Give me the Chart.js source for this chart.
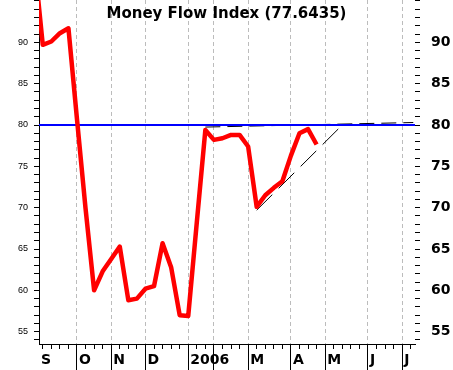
<!DOCTYPE html>
<html><head><meta charset="utf-8">
<script src="https://cdn.jsdelivr.net/npm/chart.js@4.4.1/dist/chart.umd.min.js"></script>
<style>html,body{margin:0;padding:0;background:#fff;overflow:hidden}#wrap{width:453px;height:370px}</style>
</head><body><div id="wrap"><canvas id="c" width="453" height="370"></canvas></div>
<script>
// ---- data (week index 0 = first week of Sep 2005) ----
const titleText = 'Money Flow Index (77.6435)';
const weeks = [-1,0,1,2,3,4,5,6,7,8,9,10,11,12,13,14,15,16,17,18,19,20,21,22,23,24,25,26,27,28,29,30,31,32];
const mfi = [100, 89.7, 90.1, 91.1, 91.7, 80.7, 69.9, 60.0, 62.3, 63.8, 65.3, 58.8, 59.0, 60.2, 60.5, 65.7, 62.8, 57.0, 56.9, 68.2, 79.4, 78.2, 78.4, 78.8, 78.8, 77.4, 70.1, 71.5, 72.4, 73.2, 76.3, 79.0, 79.5, 77.6435];
const monthWeeks = [4, 8, 12, 17, 20, 24, 29, 33, 38, 42];
const monthLabels = ['O', 'N', 'D', '2006', '', 'M', 'A', 'M', 'J', 'J'];
const firstLabel = 'S';
const yLabelValues = [55, 60, 65, 70, 75, 80, 85, 90];
const refLevel = 80;
const resistX = [19, 43.3], resistY = [79.75, 80.3];
const supportX = [25, 35], supportY = [69.7, 80.0];
const xMin = -0.44, xMax = 43.5;
const yMin = 53.51, yMax = 95.12;

const pts = (xs, ys) => xs.map((x, i) => ({x: x, y: ys[i]}));
const allMonthTicks = [xMin].concat(monthWeeks);
const allMonthLabels = [firstLabel].concat(monthLabels);
const isStart = ctx => ctx.tick && Math.abs(ctx.tick.value - xMin) < 1e-6;
const yLabel = v => (yLabelValues.indexOf(Math.round(v)) >= 0 && Math.abs(v - Math.round(v)) < 1e-6 ? String(Math.round(v)) : '');
const noPad = s => { s.paddingTop = 0; s.paddingBottom = 0; s.paddingLeft = 0; s.paddingRight = 0; };

// title drawn over the plot area (reference has no space reserved for it)
const overlayTitle = {
  id: 'overlayTitle',
  afterDraw(chart) {
    const ctx = chart.ctx;
    ctx.save();
    ctx.font = 'bold 15px "DejaVu Sans"';
    ctx.fillStyle = '#000';
    ctx.textAlign = 'center';
    ctx.textBaseline = 'alphabetic';
    ctx.fillText(titleText, chart.width / 2, 18);
    ctx.restore();
  }
};

new Chart(document.getElementById('c'), {
  type: 'line',
  data: {
    datasets: [
      {data: pts(weeks, mfi), borderColor: '#ff0000', borderWidth: 4.5, pointRadius: 0, tension: 0, borderJoinStyle: 'round', xAxisID: 'x', yAxisID: 'y'},
      {data: pts([xMin, xMax], [refLevel, refLevel]), borderColor: '#0000ff', borderWidth: 2, pointRadius: 0, xAxisID: 'x', yAxisID: 'y'},
      {data: pts(resistX, resistY), borderColor: '#000', borderWidth: 1, borderDash: [15, 7], pointRadius: 0, xAxisID: 'x', yAxisID: 'y'},
      {data: pts(supportX, supportY), borderColor: '#000', borderWidth: 1, borderDash: [22, 9], pointRadius: 0, xAxisID: 'x', yAxisID: 'y'}
    ]
  },
  plugins: [overlayTitle],
  options: {
    responsive: false,
    devicePixelRatio: 1,
    animation: false,
    events: [],
    layout: {padding: 0, autoPadding: false},
    plugins: {
      legend: {display: false},
      tooltip: {enabled: false},
      title: {display: false}
    },
    scales: {
      x: {
        type: 'linear', position: 'bottom', min: xMin, max: xMax, weight: 0,
        afterFit: s => { s.height = 0; noPad(s); },
        ticks: {display: false, stepSize: 1, includeBounds: false, autoSkip: false},
        grid: {drawOnChartArea: false, tickLength: 5, tickColor: '#000', color: '#000'},
        border: {display: true, color: '#000', width: 1}
      },
      xm: {
        type: 'linear', position: 'bottom', min: xMin, max: xMax, weight: 1,
        afterBuildTicks: s => { s.ticks = allMonthTicks.map(v => ({value: v})); },
        afterFit: s => { s.height = 26; noPad(s); },
        ticks: {
          callback: (v, i) => allMonthLabels[i],
          autoSkip: false, maxRotation: 0, align: 'start', labelOffset: 2, padding: -18,
          color: '#000', font: {family: 'DejaVu Sans', size: 14, weight: 'bold'}
        },
        grid: {
          drawOnChartArea: true, tickLength: 26, lineWidth: 1,
          color: ctx => isStart(ctx) ? 'rgba(0,0,0,0)' : '#bcbcbc',
          tickColor: ctx => isStart(ctx) ? 'rgba(0,0,0,0)' : '#000',
          tickBorderDash: []
        },
        border: {display: false, dash: [4, 3]}
      },
      y: {
        type: 'linear', position: 'left', min: yMin, max: yMax,
        afterFit: s => { s.width = 39; noPad(s); },
        ticks: {
          stepSize: 1, includeBounds: false, autoSkip: false, padding: 6, color: '#000',
          font: {family: 'Liberation Sans', size: 9},
          callback: v => yLabel(v)
        },
        grid: {drawOnChartArea: false, tickLength: 5, tickColor: '#000', color: '#000'},
        border: {display: true, color: '#000', width: 1}
      },
      y2: {
        type: 'linear', position: 'right', min: yMin, max: yMax,
        afterFit: s => { s.width = 38; noPad(s); },
        ticks: {
          stepSize: 1, includeBounds: false, autoSkip: false, padding: 11, color: '#000',
          font: {family: 'DejaVu Sans', size: 14, weight: 'bold'},
          callback: v => yLabel(v)
        },
        grid: {drawOnChartArea: false, tickLength: 5, tickColor: '#000', color: '#000'},
        border: {display: false}
      }
    }
  }
});
</script>
</body></html>
